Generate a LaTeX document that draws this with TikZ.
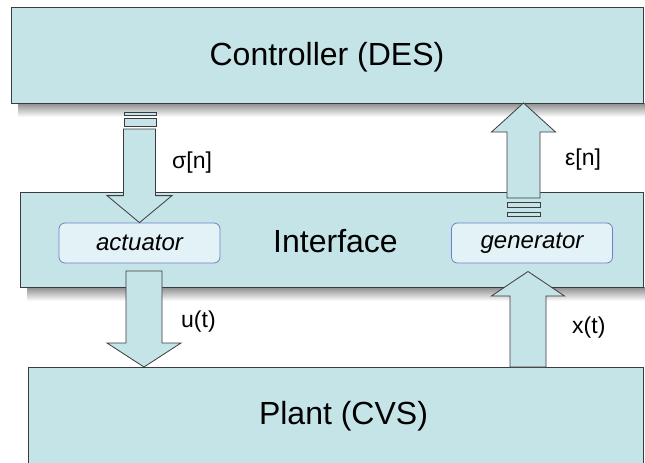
\documentclass[tikz,border=0pt]{standalone}
\usepackage{fontspec}
\setmainfont{Liberation Sans}
\usetikzlibrary{calc}
\definecolor{boxfill}{RGB}{196,228,231}
\definecolor{subfill}{RGB}{227,242,246}
\definecolor{subedge}{RGB}{112,126,200}
\definecolor{edgegray}{RGB}{60,60,60}

% block arrow pointing down: top coordinate, tip coordinate,
% shaft half-width, head half-width, head length
\newcommand\downblock[5]{%
  \filldraw[blk] let \p1=(#1), \p2=(#2) in
    (\x2-#3,\y1) -- (\x2+#3,\y1) -- (\x2+#3,\y2+#5) -- (\x2+#4,\y2+#5) -- (\x2,\y2)
    -- (\x2-#4,\y2+#5) -- (\x2-#3,\y2+#5) -- cycle;}
% block arrow pointing up: bottom coordinate, tip coordinate, same sizes
\newcommand\upblock[5]{%
  \filldraw[blk] let \p1=(#1), \p2=(#2) in
    (\x2-#3,\y1) -- (\x2-#3,\y2-#5) -- (\x2-#4,\y2-#5) -- (\x2,\y2)
    -- (\x2+#4,\y2-#5) -- (\x2+#3,\y2-#5) -- (\x2+#3,\y1) -- cycle;}

\begin{document}
\begin{tikzpicture}[x=1pt,y=-1pt,
  block/.style={draw=edgegray, fill=boxfill, line width=0.9pt, inner sep=0, outer sep=0},
  sub/.style={draw=subedge, fill=subfill, rounded corners=6pt, line width=0.8pt,
    minimum width=161pt, minimum height=40pt, inner sep=0,
    font=\fontsize{24}{28}\selectfont\itshape},
  big/.style={font=\fontsize{32}{38}\selectfont, inner sep=0},
  sig/.style={font=\fontsize{23}{28}\selectfont, inner sep=0, anchor=west},
  blk/.style={draw=edgegray, fill=boxfill, line width=0.8pt, line join=miter},
  shadow/.style={top color=black!45, bottom color=white}]

\useasboundingbox (0,0) rectangle (645,463);
\clip (0,0) rectangle (645,463);

% drop shadows under the layers
\shade[shadow] (18,103) rectangle (645,117);
\shade[shadow] (27,287) rectangle (645,301);

% layers
\node[block, minimum width=632pt, minimum height=96pt] (ctrl) at (327.5,55) {};
\node[block, minimum width=623.5pt, minimum height=95pt] (iface) at (331.75,239.5) {};
\node[block, minimum width=615.5pt, minimum height=113pt] (plant) at (335.75,423.5) {};

\node[big] (ctrllabel) at (327,57) {Controller (DES)};
\node[big] (ifacelabel) at (335.5,241) {Interface};
\node[big] (plantlabel) at (343.5,416) {Plant (CVS)};

% interface blocks
\node[sub] (act) at (139.5,243) {actuator};
\node[sub] (gen) at (532,243) {generator};

% sigma[n]: controller -> actuator
\coordinate (sigtop) at (140,129);
\downblock{sigtop}{act.north}{16pt}{32.5pt}{27pt}
\filldraw[blk] let \p1=(sigtop) in
  (\x1-16pt,\y1+3pt) rectangle (\x1+16pt,\y1+11pt)
  (\x1-16pt,\y1+14pt) rectangle (\x1+16pt,\y1+17pt);

% u(t): interface -> plant
\coordinate (utop) at (144,271);
\downblock{utop}{utop |- plant.north}{18pt}{37pt}{24pt}

% x(t): plant -> generator
\coordinate (xtip) at (528,271.5);
\upblock{xtip |- plant.north}{xtip}{18pt}{36.5pt}{24.5pt}

% epsilon[n]: generator -> controller
\coordinate (epsbot) at (523.5,198);
\upblock{epsbot}{epsbot |- ctrl.south}{16.5pt}{32pt}{29pt}
\filldraw[blk] let \p1=(epsbot) in
  (\x1-16.5pt,\y1-4pt) rectangle (\x1+16.5pt,\y1-9pt)
  (\x1-16.5pt,\y1-14pt) rectangle (\x1+16.5pt,\y1-18pt);

% signal labels
\node[sig] (lsig) at (172,163) {σ[n]};
\node[sig] (leps) at (565,160) {ε[n]};
\node[sig] (lu) at (181,322) {u(t)};
\node[sig] (lx) at (572,328) {x(t)};
\end{tikzpicture}
\end{document}
